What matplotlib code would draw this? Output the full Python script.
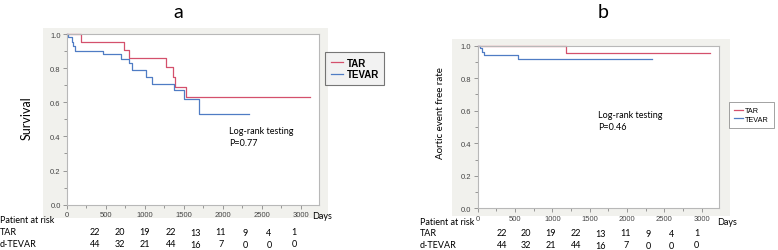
import matplotlib
matplotlib.use("Agg")
import matplotlib.pyplot as plt
from matplotlib.patches import Rectangle
from matplotlib.ticker import MultipleLocator

# ---- data ----
a_tar_t = [0, 180, 737, 793, 1268, 1367, 1388, 1530, 3124]
a_tar_s = [1.0, 0.955, 0.908, 0.859, 0.805, 0.746, 0.688, 0.629, 0.629]
a_tevar_t = [0, 15, 60, 80, 103, 467, 690, 797, 836, 1012, 1097, 1376, 1508, 1701, 2331]
a_tevar_s = [1.0, 0.98, 0.955, 0.93, 0.90, 0.88, 0.855, 0.83, 0.79, 0.75, 0.71, 0.674, 0.62, 0.53, 0.53]

b_tar_t = [0, 1183, 3111]
b_tar_s = [1.0, 0.955, 0.955]
b_tevar_t = [0, 31, 62, 88, 544, 2330]
b_tevar_s = [1.0, 0.986, 0.96, 0.941, 0.92, 0.92]

risk_groups = ["TAR", "d-TEVAR"]
tar_risk = [22, 20, 19, 22, 13, 11, 9, 4, 1]
tevar_risk = [44, 32, 21, 44, 16, 7, 0, 0, 0]
p_values = ["P=0.77", "P=0.46"]
series_names = ["TAR", "TEVAR"]

RED = "#d4506c"
BLUE = "#4f7cc4"
W, H = 778, 251

fig = plt.figure(figsize=(W / 100, H / 100), dpi=100)
fig.patch.set_facecolor("white")


def fx(px):
    return px / W


def fy(py):
    return 1 - py / H


def bg(x0, y0, x1, y1):
    r = Rectangle((fx(x0), fy(y1)), fx(x1) - fx(x0), fy(y0) - fy(y1),
                  transform=fig.transFigure, facecolor="#f1f1ed",
                  edgecolor="none", zorder=-10)
    fig.patches.append(r)


bg(43, 29, 328, 219)
bg(452, 40, 730, 217)


def make_axes(x0, y0, x1, y1, xmax):
    ax = fig.add_axes([fx(x0), fy(y1), fx(x1) - fx(x0), fy(y0) - fy(y1)])
    ax.set_facecolor("white")
    ax.set_xlim(0, xmax)
    ax.set_ylim(0, 1.0)
    for s in ax.spines.values():
        s.set_color("#b8b8b8")
        s.set_linewidth(0.8)
    ax.xaxis.set_major_locator(MultipleLocator(500))
    ax.xaxis.set_minor_locator(MultipleLocator(250))
    ax.yaxis.set_major_locator(MultipleLocator(0.2))
    ax.yaxis.set_minor_locator(MultipleLocator(0.1))
    ax.tick_params(which="both", direction="out", colors="#888888", labelcolor="#444444",
                   labelsize=5.5, width=0.6, pad=1.5)
    ax.tick_params(which="major", length=3)
    ax.tick_params(which="minor", length=2)
    ax.set_xticks([0, 500, 1000, 1500, 2000, 2500, 3000])
    ax.set_xticklabels(["0", "500", "1000", "1500", "2000", "2500", "3000"])
    ax.set_yticks([0, 0.2, 0.4, 0.6, 0.8, 1.0])
    ax.set_yticklabels(["0.0", "0.2", "0.4", "0.6", "0.8", "1.0"])
    for lab in ax.get_xticklabels() + ax.get_yticklabels():
        lab.set_family("Liberation Sans")
    return ax


# ---- panel a ----
axa = make_axes(67, 35, 318.5, 205.7, 3230)
axa.step(a_tar_t, a_tar_s, where="post", color=RED, lw=0.9, clip_on=False, label=series_names[0])
axa.step(a_tevar_t, a_tevar_s, where="post", color=BLUE, lw=0.9, clip_on=False, label=series_names[1])
fig.text(fx(178), fy(12), "a", ha="center", va="center", fontsize=14, family="Lato")
fig.text(fx(27), fy(118), "Survival", rotation=90, ha="center", va="center", fontsize=9, family="Lato")
fig.text(fx(229), fy(131), "Log-rank testing", ha="left", va="center", fontsize=6.5, family="Lato")
fig.text(fx(229), fy(143), p_values[0], ha="left", va="center", fontsize=6.5, family="Lato")
fig.text(fx(312), fy(217), "Days", ha="left", va="center", fontsize=6.5, family="Lato")
leg = fig.legend(*axa.get_legend_handles_labels(), loc="upper left",
                 bbox_to_anchor=(fx(325), fy(53)), borderaxespad=0, frameon=True,
                 fancybox=False, handlelength=1.3, handletextpad=0.3, labelspacing=0.15,
                 borderpad=0.6, prop={"family": "Liberation Sans", "size": 7, "weight": "bold"})
leg.get_frame().set_edgecolor("#555555")
leg.get_frame().set_facecolor("#efefef")
leg.get_frame().set_linewidth(0.8)

# risk table a
fig.text(fx(0), fy(221), "Patient at risk", ha="left", va="center", fontsize=6.5, family="Lato")
fig.text(fx(0), fy(233), risk_groups[0], ha="left", va="center", fontsize=6.5, family="Lato")
fig.text(fx(0), fy(245), risk_groups[1], ha="left", va="center", fontsize=6.5, family="Lato")
xa = [95, 120, 145, 171, 196, 221, 245, 269, 294]
dy = [0, 0, 0, 0, 1, 0, 1, 1, 0]
for i, (a, b) in enumerate(zip(tar_risk, tevar_risk)):
    fig.text(fx(xa[i]), fy(233 + dy[i]), str(a), ha="center", va="center", fontsize=6.5, family="Lato")
    fig.text(fx(xa[i]), fy(245 + dy[i]), str(b), ha="center", va="center", fontsize=6.5, family="Lato")

# ---- panel b ----
axb = make_axes(477.7, 46.7, 719.3, 209.3, 3236)
axb.step(b_tar_t, b_tar_s, where="post", color=RED, lw=0.9, clip_on=False, label=series_names[0])
axb.step(b_tevar_t, b_tevar_s, where="post", color=BLUE, lw=0.9, clip_on=False, label=series_names[1])
fig.text(fx(603), fy(12), "b", ha="center", va="center", fontsize=14, family="Lato")
fig.text(fx(440), fy(113), "Aortic event free rate", rotation=90, ha="center", va="center",
         fontsize=7, family="Lato")
fig.text(fx(598), fy(116), "Log-rank testing", ha="left", va="center", fontsize=6.5, family="Lato")
fig.text(fx(598), fy(127), p_values[1], ha="left", va="center", fontsize=6.5, family="Lato")
fig.text(fx(717), fy(223), "Days", ha="left", va="center", fontsize=6.5, family="Lato")
legb = fig.legend(*axb.get_legend_handles_labels(), loc="upper left",
                  bbox_to_anchor=(fx(729), fy(103)), borderaxespad=0, frameon=True,
                  fancybox=False, handlelength=1.2, handletextpad=0.3, labelspacing=0.25,
                  borderpad=0.7, prop={"family": "Liberation Sans", "size": 5.2})
legb.get_frame().set_edgecolor("#777777")
legb.get_frame().set_facecolor("white")
legb.get_frame().set_linewidth(0.6)

fig.text(fx(420), fy(223), "Patient at risk", ha="left", va="center", fontsize=6.5, family="Lato")
fig.text(fx(420), fy(234), risk_groups[0], ha="left", va="center", fontsize=6.5, family="Lato")
fig.text(fx(420), fy(246), risk_groups[1], ha="left", va="center", fontsize=6.5, family="Lato")
xb = [501.7, 525.7, 551, 576, 600.7, 625.7, 648.3, 671.7, 696.7]
for i, (a, b) in enumerate(zip(tar_risk, tevar_risk)):
    fig.text(fx(xb[i]), fy(234 + dy[i]), str(a), ha="center", va="center", fontsize=6.5, family="Lato")
    fig.text(fx(xb[i]), fy(246 + dy[i]), str(b), ha="center", va="center", fontsize=6.5, family="Lato")

fig.savefig("out.png", dpi=100, facecolor="white")
